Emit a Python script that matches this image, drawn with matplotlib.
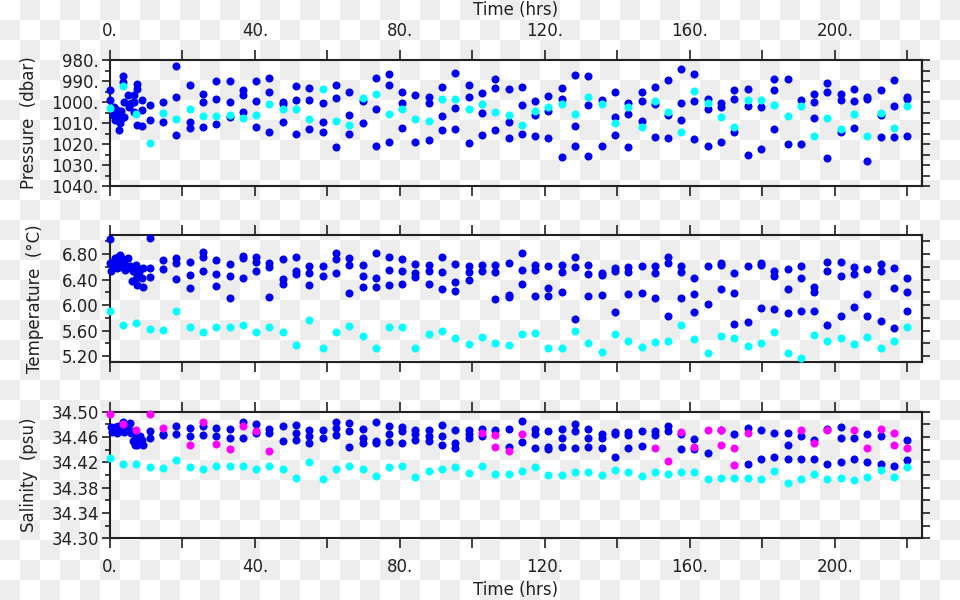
import numpy as np
import matplotlib
matplotlib.use('Agg')
import matplotlib.pyplot as plt
from matplotlib.ticker import FixedLocator, FuncFormatter

nan = np.nan

# regular sampling times (hrs)
hours = [0.0, 3.7, 7.3, 11.0, 14.7, 18.3, 22.0, 25.7, 29.3, 33.0,
         36.7, 40.3, 44.0, 47.7, 51.3, 55.0, 58.7, 62.3, 66.0, 69.7,
         73.3, 77.0, 80.7, 84.3, 88.0, 91.7, 95.3, 99.0, 102.7, 106.3,
         110.0, 113.7, 117.3, 121.0, 124.7, 128.3, 132.0, 135.7, 139.3, 143.0,
         146.7, 150.3, 154.0, 157.7, 161.3, 165.0, 168.7, 172.3, 176.0, 179.7,
         183.3, 187.0, 190.7, 194.3, 198.0, 201.7, 205.3, 209.0, 212.7, 216.3,
         220.0]

# pressure (dbar)
pres_a = [nan, nan, nan, 1001.4, 999.8, 983.0, 992.0, 996.3, 989.8, 990.2,
          994.3, 990.0, 988.7, 1000.0, 992.2, 993.5, 1000.6, 992.0, 995.4, 999.6,
          988.7, 986.7, 995.4, 996.8, 997.8, 993.0, 986.0, 992.0, 995.6, 989.0,
          994.0, 992.7, 999.4, 997.0, 993.3, 987.0, 987.8, 999.2, 995.0, 1000.3,
          995.2, 993.0, 989.7, 984.3, 986.8, 998.6, 1000.3, 994.1, 993.8, 1002.5,
          989.0, 989.2, 998.9, 996.0, 990.8, 996.2, 994.0, 997.8, 994.4, 989.5,
          997.8]
pres_b = [nan, nan, nan, 1008.6, 1009.7, 997.5, 1009.4, 999.8, 998.6, 1000.2,
          996.7, 999.5, 995.0, 1001.0, 999.0, 999.0, 1009.7, 998.3, 1006.2, 1010.2,
          1003.5, 991.7, 1000.3, 1018.9, 1000.3, 1006.5, 1002.7, 997.8, 1005.4, 993.2,
          1009.5, 1001.6, 1006.2, 1004.3, 998.4, 1011.3, 1001.3, 1021.0, 1007.0, 1005.6,
          999.5, 1001.1, 1006.2, 1000.6, 999.7, 1003.3, 1002.2, 998.4, 1001.9, 1022.2,
          994.3, 1020.0, 1020.0, 999.8, 995.2, 999.0, 999.4, 998.4, 1006.2, 1002.1,
          998.4]
pres_c = [nan, nan, nan, nan, nan, 1015.7, 1012.2, 1011.7, 1010.6, 1007.0,
          1004.9, 1011.7, 1014.3, 1009.4, 1015.0, 1013.0, 1014.4, 1021.4, 1015.4, nan,
          1021.0, 1019.2, 1012.5, nan, 1018.1, 1013.3, 1012.7, 1019.7, 1015.9, 1013.3,
          1017.3, 1015.2, 1016.2, 1017.3, 1026.0, 1021.0, 1025.6, nan, 1015.6, 1021.6,
          1008.9, 1016.5, 1017.3, 1008.4, 1017.8, 1021.0, 1018.9, 1014.4, 1025.1, nan,
          1012.9, nan, nan, 1007.5, 1026.8, 1014.4, 1012.4, 1027.9, 1016.5, 1016.5,
          1016.3]
pres_cyan = [1003.0, 992.4, 1005.9, 1019.7, 1005.4, 1008.0, 1003.5, 1006.7, 1006.7, 1006.2,
             1007.8, 1006.2, 1001.1, 1003.3, 1003.3, 1008.0, 994.0, 1008.9, 1011.1, 998.3,
             996.2, 1005.9, 1003.2, 1007.9, 1008.9, 998.4, 998.7, 1003.2, 1001.1, 1004.8,
             1006.2, 1011.0, 1004.3, 1002.5, 1001.1, 1005.9, 997.8, 1001.0, 1010.2, 1002.5,
             1012.0, 999.4, 1004.6, 1014.3, 994.9, 1000.3, 1007.0, 1012.0, 999.2, 999.2,
             1001.4, 1006.7, 1001.9, 1016.2, 1007.5, 1012.9, 1005.7, 1016.2, 1005.4, 1012.5,
             1001.9]

# temperature (deg C)
temp_a = [nan, nan, nan, 7.05, 6.71, 6.74, 6.67, 6.83, 6.70, 6.64,
          6.77, 6.76, 6.66, 6.72, 6.75, 6.62, 6.61, 6.81, 6.74, 6.63,
          6.81, 6.75, 6.72, 6.64, 6.63, 6.76, 6.64, 6.62, 6.63, 6.63,
          6.66, 6.82, 6.63, 6.62, 6.63, 6.76, 6.63, 6.51, 6.58, 6.60,
          6.62, 6.61, 6.75, 6.62, 6.42, 6.62, 6.66, 6.50, 6.62, 6.66,
          6.54, 6.57, 6.62, 6.28, 6.67, 6.68, 6.60, 6.56, 6.65, 6.58,
          6.42]
temp_b = [nan, nan, nan, 6.58, 6.56, 6.66, 6.47, 6.75, 6.49, 6.46,
          6.74, 6.68, 6.59, 6.41, 6.54, 6.50, 6.46, 6.72, 6.63, 6.45,
          6.43, 6.55, 6.53, 6.51, 6.54, 6.52, 6.36, 6.52, 6.53, 6.52,
          6.16, 6.55, 6.55, 6.26, 6.52, 6.59, 6.49, 6.47, 6.54, 6.52,
          6.19, 6.50, 6.66, 6.52, 6.17, 6.01, 6.63, 6.19, 5.73, 6.63,
          6.45, 6.25, 6.42, 6.21, 6.54, 6.45, 6.49, 6.18, 6.53, 6.26,
          6.21]
temp_c = [nan, nan, nan, 6.44, nan, 6.41, 6.27, 6.54, 6.30, 6.11,
          6.42, 6.53, 6.12, 6.33, 6.49, 6.31, nan, 6.50, 6.19, 6.29,
          6.29, 6.31, 6.33, 6.44, 6.33, 6.25, 6.22, 6.40, nan, 6.09,
          6.12, 6.33, 6.14, 6.14, 6.21, 5.78, 6.14, 6.15, 5.89, 6.17,
          nan, 6.11, 5.82, 6.11, 5.89, nan, 6.25, 5.70, nan, 5.96,
          5.93, 5.88, 5.91, 5.91, 5.68, 5.82, 5.97, 5.82, 5.75, 5.64,
          5.91]
temp_cyan = [5.90, 5.68, 5.71, 5.62, 5.61, 5.90, 5.66, 5.58, 5.65, 5.66,
             5.69, 5.58, 5.65, 5.58, 5.37, 5.76, 5.32, 5.57, 5.67, 5.52,
             5.32, 5.65, 5.66, 5.33, 5.54, 5.59, 5.49, 5.39, 5.50, 5.41,
             5.38, 5.54, 5.56, 5.33, 5.32, 5.60, 5.40, 5.26, 5.55, 5.43,
             5.34, 5.42, 5.44, 5.68, 5.46, 5.24, 5.52, 5.49, 5.36, 5.40,
             5.58, 5.25, 5.17, 5.53, 5.43, 5.49, 5.39, 5.50, 5.32, 5.44,
             5.66]

# salinity (psu)
salt_a = [nan, nan, nan, 34.469, 34.463, 34.477, 34.474, 34.477, 34.475, 34.472,
          34.483, 34.481, 34.472, 34.478, 34.479, 34.471, 34.471, 34.483, 34.482, 34.473,
          34.483, 34.477, 34.476, 34.471, 34.471, 34.479, 34.471, 34.471, 34.472, 34.471,
          34.472, 34.486, 34.472, 34.470, 34.472, 34.480, 34.473, 34.464, 34.468, 34.468,
          34.470, 34.470, 34.478, 34.464, 34.457, 34.435, 34.471, 34.464, 34.474, 34.471,
          34.466, 34.466, 34.461, 34.456, 34.472, 34.476, 34.458, 34.465, 34.462, 34.415,
          34.456]
salt_b = [nan, nan, nan, 34.459, 34.465, 34.464, 34.462, 34.463, 34.461, 34.459,
          34.459, 34.466, 34.467, 34.454, 34.466, 34.461, 34.459, 34.475, 34.469, 34.459,
          34.454, 34.464, 34.469, 34.464, 34.461, 34.461, 34.450, 34.464, 34.461, nan,
          34.445, 34.452, 34.464, 34.445, 34.459, 34.469, 34.459, 34.458, 34.465, 34.463,
          34.446, 34.463, 34.469, 34.441, 34.441, nan, nan, nan, 34.418, 34.425,
          34.428, 34.447, 34.425, 34.426, 34.417, 34.458, 34.425, 34.420, 34.418, nan,
          34.424]
salt_c = [nan, nan, nan, nan, nan, nan, nan, nan, nan, nan,
          nan, nan, nan, nan, 34.456, 34.450, nan, 34.463, 34.444, 34.450,
          34.450, 34.452, 34.451, 34.455, 34.453, 34.448, 34.442, 34.458, nan, nan,
          nan, nan, 34.442, 34.441, 34.445, 34.443, 34.445, 34.442, 34.428, 34.443,
          nan, nan, nan, nan, nan, nan, nan, nan, nan, nan,
          nan, 34.425, nan, nan, nan, 34.420, nan, nan, nan, nan,
          nan]
salt_cyan = [34.427, 34.417, 34.417, 34.412, 34.411, 34.423, 34.413, 34.409, 34.414, 34.414,
             34.415, 34.409, 34.414, 34.409, 34.396, 34.420, 34.394, 34.409, 34.415, 34.409,
             34.399, 34.413, 34.415, 34.397, 34.407, 34.409, 34.412, 34.403, 34.414, 34.401,
             34.401, 34.407, 34.412, 34.400, 34.400, 34.404, 34.404, 34.400, 34.408, 34.404,
             34.399, 34.404, 34.402, 34.404, 34.404, 34.394, 34.396, 34.396, 34.396, 34.393,
             34.407, 34.387, 34.394, 34.402, 34.394, 34.396, 34.392, 34.397, 34.408, 34.397,
             34.412]
salt_mag_a = [34.497, 34.480, 34.471, 34.497, 34.475, nan, 34.448, 34.483, 34.449, 34.441,
              34.478, 34.469, 34.438, nan, nan, nan, nan, nan, nan, nan,
              nan, nan, nan, nan, nan, nan, nan, nan, 34.466, 34.463,
              34.438, 34.464, nan, nan, nan, nan, nan, nan, nan, nan,
              nan, 34.442, 34.422, 34.468, 34.445, 34.471, 34.471, 34.442, 34.467, nan,
              nan, nan, 34.471, 34.450, 34.471, nan, 34.471, 34.443, 34.473, 34.467,
              34.443]
salt_mag_b = [nan] * 29 + [34.444] + [nan] * 16 + [34.448, 34.416] + [nan] * 11 + [34.447, nan]

# first ~9 hours were sampled more often (blue only)
burst_p_hours = [0.0, 0.0, 0.9, 1.4, 1.8, 2.3, 2.6, 2.8, 3.0, 3.7, 3.7, 3.9, 3.9, 5.0,
                 5.3, 5.8, 6.5, 6.5, 6.5, 7.4, 7.4, 7.4, 8.7, 8.7, 8.7, 1.2, 2.0, 3.2]
burst_pres = [994.3, 999.0, 1006.2, 1008.6, 1003.8, 1007.0, 1013.3, 1010.2, 1004.5, 987.6,
              990.3, 999.8, 1007.0, 996.7, 1002.2, 1000.6, 996.7, 999.8, 1004.6, 991.6,
              994.0, 1011.0, 999.0, 1003.8, 1011.4, 1002.5, 1006.8, 1007.5]
burst_t_hours = [0.0, 0.0, 0.3, 0.9, 1.4, 1.8, 2.3, 2.8, 3.2, 3.9, 4.1, 5.1, 5.5, 6.2, 6.4,
                 7.1, 7.4, 7.4, 7.8, 8.7, 9.0, 9.0, 0.9, 1.8, 2.6, 3.5, 4.6, 5.9, 6.8, 8.0]
burst_temp = [7.03, 6.66, 6.53, 6.68, 6.74, 6.66, 6.76, 6.79, 6.68, 6.66, 6.55, 6.74, 6.61,
              6.37, 6.53, 6.63, 6.32, 6.47, 6.55, 6.42, 6.29, 6.58, 6.61, 6.58, 6.60, 6.72,
              6.60, 6.58, 6.40, 6.52]
burst_s_hours = [0.3, 0.5, 0.9, 1.4, 1.8, 2.3, 2.8, 3.2, 3.5, 4.0, 4.6, 5.0, 5.4, 5.8, 6.0,
                 6.3, 6.8, 7.0, 7.2, 7.4, 7.8, 8.2, 8.5, 8.8, 9.0]
burst_salt = [34.476, 34.468, 34.472, 34.476, 34.466, 34.478, 34.470, 34.474, 34.484, 34.468,
              34.475, 34.470, 34.482, 34.466, 34.470, 34.453, 34.455, 34.448, 34.460, 34.447,
              34.456, 34.462, 34.450, 34.455, 34.447]

BLUE = '#0000f0'
CYAN = '#00ffff'
MAGENTA = '#ff00ff'
INK = '#222222'

plt.rcParams['font.family'] = ['DejaVu Sans']
plt.rcParams['font.size'] = 12
plt.rcParams['text.color'] = INK

fig = plt.figure(figsize=(9.6, 6), dpi=100)

# transparent-looking checkerboard backdrop
rows, cols = np.indices((600, 960)) // 20
checker = np.where((rows + cols) % 2 == 1, 0.93, 1.0)
fig.figimage(np.dstack([checker] * 3), xo=0, yo=0, zorder=-5)

left, width = 110 / 960, 811.7 / 960
ax_p = fig.add_axes([left, 1 - 186 / 600, width, 126 / 600])
ax_t = fig.add_axes([left, 1 - 361.7 / 600, width, 126.7 / 600])
ax_s = fig.add_axes([left, 1 - 538.3 / 600, width, 126.6 / 600])

def dots(ax, x, y, color):
    ax.plot(x, y, 'o', color=color, ms=5.8, mec='none', clip_on=False, zorder=3)

dots(ax_p, burst_p_hours, burst_pres, BLUE)
for col in (pres_a, pres_b, pres_c):
    dots(ax_p, hours, col, BLUE)
dots(ax_p, hours, pres_cyan, CYAN)

dots(ax_t, burst_t_hours, burst_temp, BLUE)
for col in (temp_a, temp_b, temp_c):
    dots(ax_t, hours, col, BLUE)
dots(ax_t, hours, temp_cyan, CYAN)

dots(ax_s, burst_s_hours, burst_salt, BLUE)
for col in (salt_a, salt_b, salt_c):
    dots(ax_s, hours, col, BLUE)
dots(ax_s, hours, salt_cyan, CYAN)
dots(ax_s, hours, salt_mag_a, MAGENTA)
dots(ax_s, hours, salt_mag_b, MAGENTA)

def time_label(v, pos):
    return '%d.' % v if round(v) % 40 == 0 else ''

def style(ax, ylim, major, minor, fmt, label, label_x):
    ax.set_facecolor('none')
    ax.set_xlim(0, 224)
    ax.set_ylim(*ylim)
    for sp in ax.spines.values():
        sp.set_linewidth(1.5)
        sp.set_color(INK)
    ax.xaxis.set_major_locator(FixedLocator(np.arange(0, 221, 20)))
    ax.xaxis.set_major_formatter(FuncFormatter(time_label))
    ax.tick_params(axis='x', which='major', direction='out', length=7.5, width=1.2,
                   color=INK, top=True, bottom=True, labeltop=False, labelbottom=False,
                   pad=7, labelsize=12, labelcolor=INK)
    ax.yaxis.set_major_locator(FixedLocator(major))
    ax.yaxis.set_minor_locator(FixedLocator(minor))
    ax.yaxis.set_major_formatter(FuncFormatter(lambda v, p: fmt % v))
    ax.tick_params(axis='y', which='major', direction='out', length=6, width=1.2,
                   color=INK, pad=2, labelsize=12, labelcolor=INK)
    ax.tick_params(axis='y', which='minor', direction='out', length=3.5, width=1.2, color=INK)
    sec = ax.secondary_yaxis('right')
    sec.set_yticks(sorted(list(major) + list(minor)))
    sec.set_yticklabels([])
    sec.tick_params(direction='out', length=6, width=1.2, color=INK)
    sec.spines['right'].set_linewidth(1.5)
    sec.spines['right'].set_color(INK)
    ax.set_ylabel(label, fontsize=12, color=INK)
    ax.yaxis.set_label_coords(label_x, 0.5)

style(ax_p, (1040, 980), np.arange(980, 1041, 10), np.arange(985, 1040, 10), '%d.',
      'Pressure  (dbar)', -0.089)
style(ax_t, (5.11, 7.1), np.arange(5.2, 6.81, 0.4), np.arange(5.4, 7.01, 0.4), '%.2f',
      'Temperature  (\u00b0C)', -0.081)
style(ax_s, (34.30, 34.50), np.arange(34.30, 34.501, 0.04), np.arange(34.32, 34.49, 0.04),
      '%.2f', 'Salinity  (psu)', -0.089)

ax_p.tick_params(axis='x', labeltop=True)
ax_s.tick_params(axis='x', labelbottom=True)

mid = (110 + 921.7) / 2 / 960
fig.text(mid, 1 - 10 / 600, 'Time (hrs)', ha='center', va='center', fontsize=12)
fig.text(mid, 1 - 590 / 600, 'Time (hrs)', ha='center', va='center', fontsize=12)

fig.savefig('out.png', dpi=100)
